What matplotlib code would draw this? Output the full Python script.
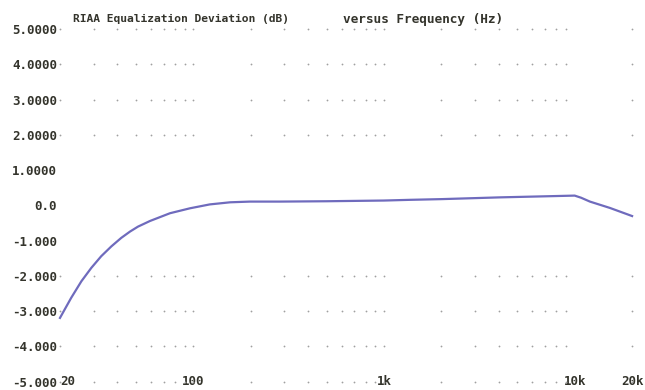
import numpy as np
import matplotlib
matplotlib.use("Agg")
import matplotlib.pyplot as plt
from matplotlib.ticker import NullFormatter

# deviation curve
freq_hz = [20, 22.9, 25.9, 29.2, 32.9, 37.2, 41.9, 46.6, 51.3, 59.3, 75.5,
           96.1, 122, 156, 198, 284, 500, 1000, 1368, 2000, 4059, 7000,
           10000, 10800, 12020, 15300, 20000]
dev_db = [-3.19, -2.62, -2.15, -1.77, -1.44, -1.16, -0.92, -0.74, -0.60,
          -0.44, -0.22, -0.08, 0.03, 0.09, 0.11, 0.11, 0.12, 0.14, 0.16, 0.18,
          0.23, 0.26, 0.28, 0.22, 0.11, -0.07, -0.30]

x_ticks = [20, 100, 1000, 10000, 20000]
x_labels = ["20", "100", "1k", "10k", "20k"]
y_ticks = [5, 4, 3, 2, 1, 0, -1, -2, -3, -4, -5]
y_labels = ["5.0000", "4.0000", "3.0000", "2.0000", "1.0000", "0.0",
            "-1.000", "-2.000", "-3.000", "-4.000", "-5.000"]
# rows where the dotted grid is still visible in the scan
dot_rows = [5, 4, 3, 2, -2, -3, -4, -5]

font = dict(family="DejaVu Sans Mono", fontweight="bold", color="#34342c")

fig = plt.figure(figsize=(6.45, 3.9), dpi=100)
ax = fig.add_axes([0.093, 0.0213, 0.887, 0.9037])
ax.set_xscale("log")
ax.set_xlim(20, 20000)
ax.set_ylim(-5, 5)

# dotted grid: a dot at every log tick on each visible row
cols = [m * 10**d for d in range(1, 4) for m in range(1, 10)]
cols = [c for c in cols if 20 <= c <= 20000] + [20000]
gx, gy = np.meshgrid(cols, dot_rows)
ax.plot(gx.ravel(), gy.ravel(), ls="none", marker="o", ms=1.3,
        color="#a0a0a0", mec="none", clip_on=False)

ax.plot(freq_hz, dev_db, color="#6f6bbd", lw=1.6, clip_on=False,
        solid_joinstyle="round")

for s in ax.spines.values():
    s.set_visible(False)

ax.set_yticks(y_ticks)
ax.set_yticklabels(y_labels, fontsize=9, **font)
ax.set_xticks(x_ticks)
ax.set_xticklabels(x_labels, fontsize=9, **font)
ax.xaxis.set_minor_formatter(NullFormatter())
ax.tick_params(axis="both", which="both", length=0)
ax.tick_params(axis="y", pad=2)
ax.tick_params(axis="x", pad=-5)
ax.get_xticklabels()[0].set_horizontalalignment("left")

fig.text(73 / 645, 1 - 19 / 390, "RIAA Equalization Deviation (dB)",
         fontsize=8.1, va="center", ha="left", **font)
fig.text(343 / 645, 1 - 19 / 390, "versus Frequency (Hz)",
         fontsize=9.2, va="center", ha="left", **font)

fig.savefig("out.png", dpi=100)
